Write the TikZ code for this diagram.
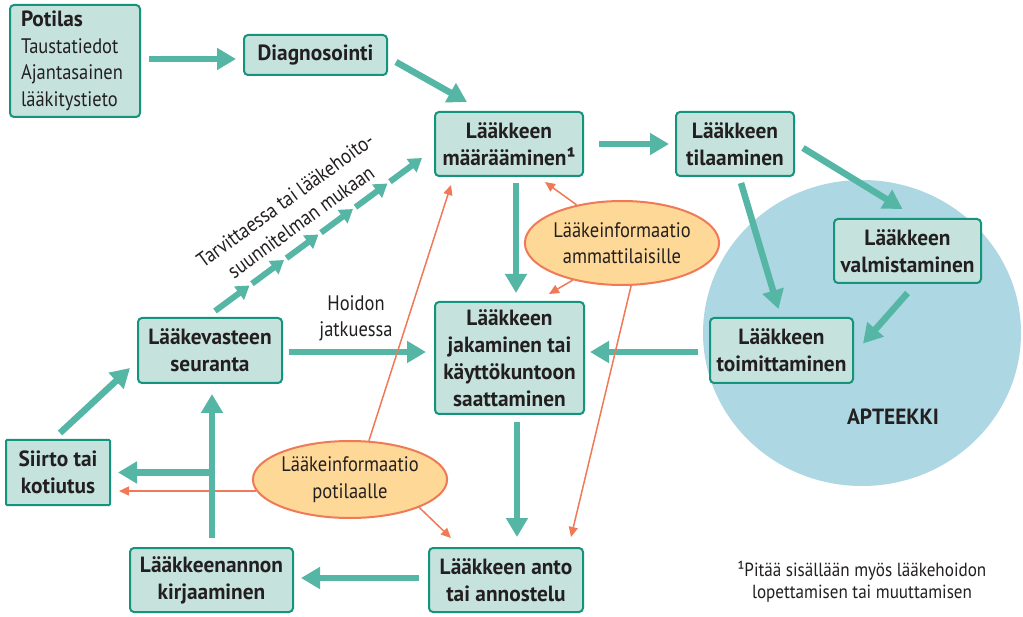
\documentclass[tikz,border=0pt]{standalone}
\usepackage{fontspec}
\setmainfont{PT Sans}
\newfontfamily\bxfam{PT Sans}[FakeStretch=0.97]
\newfontfamily\rgfam{PT Sans}[FakeStretch=0.88]
\newfontfamily\fnfam{PT Sans}[FakeStretch=0.9]
\usetikzlibrary{arrows.meta,calc,shapes.geometric}
\definecolor{boxfill}{HTML}{C5E3DC}
\definecolor{boxdraw}{HTML}{14937D}
\definecolor{tealarr}{HTML}{56B6A5}
\definecolor{orng}{HTML}{F07A57}
\definecolor{ellfill}{HTML}{FDD896}
\definecolor{circfill}{HTML}{ADD7E2}
\definecolor{txt}{HTML}{231F20}
\newcommand\bxfont{\bxfam\fontsize{22}{27}\selectfont\bfseries}
\newcommand\rgfont{\rgfam\fontsize{21}{26.5}\selectfont}
\newcommand\fnfont{\fnfam\fontsize{19}{22}\selectfont}
\begin{document}
\begin{tikzpicture}[x=1pt,y=-1pt,
  box/.style={draw=boxdraw, fill=boxfill, line width=2pt, rounded corners=4pt,
    inner sep=0pt, align=center, font=\bxfont, text=txt},
  ell/.style={ellipse, draw=orng, fill=ellfill, line width=2pt, inner sep=0pt,
    minimum width=174pt, align=center, font=\rgfont, text=txt},
  ta/.style={draw=tealarr, line width=6.5pt, -{Triangle[length=19pt,width=21pt]}},
  tad/.style={draw=tealarr, line width=6pt, -{Triangle[length=13pt,width=16pt]}},
  oa/.style={draw=orng, line width=1.5pt, -{Triangle[length=10pt,width=9pt]}},
  lbl/.style={inner sep=0pt, align=center, font=\rgfont, text=txt}]
\useasboundingbox (0,0) rectangle (1023,617);
\fill[white] (0,0) rectangle (1023,617);

% pharmacy circle
\node (apt) [ellipse, fill=circfill, inner sep=0pt, minimum width=318pt, minimum height=306pt] at (862,333) {};
\node (aptlbl) [lbl, font=\bxfont] at (893,417) {APTEEKKI};

% boxes
\node (potilas) [box, font=\rgfont, minimum width=130pt, minimum height=112pt, text width=108pt, align=left] at (75,61)
  {{\bxfont Potilas}\\Taustatiedot\\Ajantasainen\\lääkitystieto};
\node (diag) [box, minimum width=143pt, minimum height=40pt] at (315.5,55) {Diagnosointi};
\node (maar) [box, minimum width=148pt, minimum height=64pt] at (509,144) {Lääkkeen\\määrääminen¹};
\node (tilaa) [box, minimum width=118pt, minimum height=64pt] at (735,144) {Lääkkeen\\tilaaminen};
\node (valm) [box, minimum width=147pt, minimum height=64pt] at (907.5,251) {Lääkkeen\\valmistaminen};
\node (toim) [box, minimum width=143pt, minimum height=65pt] at (781.5,350.5) {Lääkkeen\\toimittaminen};
\node (jak) [box, minimum width=149pt, minimum height=112pt] at (509.5,358) {Lääkkeen\\jakaminen tai\\käyttökuntoon\\saattaminen};
\node (anto) [box, minimum width=154pt, minimum height=64pt] at (506,580) {Lääkkeen anto\\tai annostelu};
\node (kirj) [box, minimum width=163pt, minimum height=64pt] at (211.5,580) {Lääkkeenannon\\kirjaaminen};
\node (seur) [box, minimum width=144pt, minimum height=65pt] at (210,350.5) {Lääkevasteen\\seuranta};
\node (siirto) [box, rounded corners=1pt, minimum width=104pt, minimum height=65pt] at (58,472.5) {Siirto tai\\kotiutus};

% ellipses
\node (amm) [ell, minimum height=84pt] at (622,243) {Lääkeinformaatio\\ammattilaisille};
\node (pot) [ell, minimum height=77pt] at (350,479.5) {Lääkeinformaatio\\potilaalle};

% labels
\node (hoidon) [lbl] at (356,318.5) {Hoidon\\jatkuessa};
\node (tarv) [lbl, rotate=36] at (293,211) {Tarvittaessa tai lääkehoito-\\suunnitelman mukaan};
\node (fn) [lbl, font=\fnfont] at (862,582) {¹Pitää sisällään myös lääkehoidon\\lopettamisen tai muuttamisen};

% orange arrow under teal
\draw[oa] (pot.187) -- ($(siirto.east |- pot.187)+(8,0)$);

% teal arrows
\draw[ta] ($(potilas.east)+(8,-2)$) -- ($(diag.west)+(-7,4)$);
\draw[ta] ($(diag.east)+(8,7)$) -- ($(maar.north west)+(33,-9)$);
\draw[ta] ($(maar.east)+(15,0)$) -- ($(tilaa.west)+(-6,0)$);
\draw[ta] ($(tilaa.east)+(8,4)$) -- ($(valm.north)+(-5,-9)$);
\draw[ta] ($(tilaa.south)+(6,6)$) -- ($(toim.north)+(-3,-8)$);
\draw[ta] ($(valm.south)+(0,9)$) -- ($(toim.east)+(9,-7)$);
\draw[ta] ($(toim.west)+(-11,1.5)$) -- ($(jak.east)+(5,-6)$);
\draw[ta] ($(maar.south)+(7,6)$) -- ($(jak.north)+(6.5,-8)$);
\draw[ta] ($(jak.south)+(7.5,7)$) -- ($(anto.north)+(11,-10)$);
\draw[ta] ($(anto.west)+(-9,-2)$) -- ($(kirj.east)+(7,-2)$);
\draw[ta] ($(kirj.north)+(0.5,-9)$) -- ($(seur.south)+(2,10)$);
\draw[ta] ($(kirj.north |- siirto.east)+(3.5,0)$) -- ($(siirto.east)+(7,0)$);
\draw[ta] ($(siirto.north)+(2,-6)$) -- ($(seur.west)+(-7,17.5)$);
\draw[ta] ($(seur.east)+(6,1.5)$) -- ($(jak.west)+(-8,-6)$);

% dashed arrow chain
\coordinate (ds) at ($(seur.north)+(5,-6)$);
\coordinate (de) at ($(maar.west)+(-12,14)$);
\foreach \k in {0,...,5}{
  \pgfmathsetmacro\a{\k/6+(\k>0)*0.012}
  \pgfmathsetmacro\b{(\k+1)/6}
  \draw[tad] ($(ds)!\a!(de)$) -- ($(ds)!\b!(de)$);
}

% orange arrows
\draw[oa] (amm.140) -- ($(maar.south east)+(-39,5)$);
\draw[oa] (amm.217) -- ($(jak.north east)+(-36,-7)$);
\draw[oa] (amm.282) -- ($(anto.north east)+(-13,-10)$);
\draw[oa] (pot.64) -- ($(maar.south west)+(17,8)$);
\draw[oa] (pot.338) -- ($(anto.north west)+(23,-9)$);
\end{tikzpicture}
\end{document}
